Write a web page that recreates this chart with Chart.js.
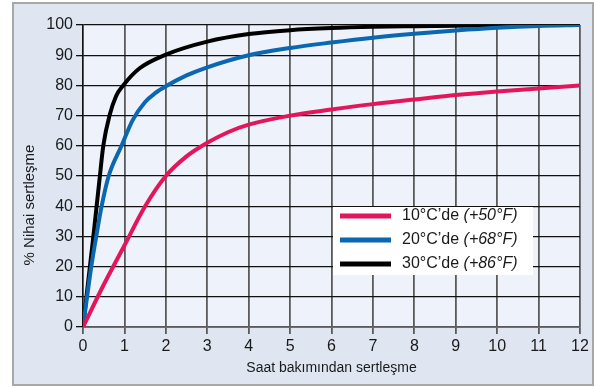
<!DOCTYPE html>
<html>
<head>
<meta charset="utf-8">
<script src="https://cdn.jsdelivr.net/npm/chart.js@4"></script>
<style>
  body { margin: 0; background: #fff; }
  #wrap { width: 595px; height: 388px; }
</style>
</head>
<body>
<div id="wrap"><canvas id="myChart" width="595" height="388"></canvas></div>
<script>
// Curing data (hours vs % of final strength)
const labels10 = ['10°C’de ', '(+50°F)'];
const labels20 = ['20°C’de ', '(+68°F)'];
const labels30 = ['30°C’de ', '(+86°F)'];

const hours10 = [0, 0.5, 1, 1.5, 2, 2.5, 3, 3.5, 4, 5, 6, 7, 8, 9, 10, 11, 12];
const pct10   = [0, 14, 27, 40, 50, 56.5, 61, 64.5, 67, 70, 72, 73.8, 75.3, 76.8, 78, 79, 80];

const hours20 = [0, 0.2, 0.32, 0.45, 0.62, 0.93, 1.2, 1.5, 1.75, 2, 2.5, 3, 4, 5, 6, 7, 8, 9, 10, 11, 12];
const pct20   = [0, 20, 30, 40, 50, 60, 68.5, 74.5, 77.5, 79.7, 83.3, 86, 90, 92.4, 94.2, 95.8, 97.1, 98.2, 99.1, 99.7, 100];

const hours30 = [0, 0.1, 0.25, 0.4, 0.49, 0.64, 0.8, 0.97, 1.36, 2, 3, 4, 5, 6, 7, 8, 10, 12];
const pct30   = [0, 12, 30, 49, 60, 70, 76.5, 80, 85.6, 90.2, 94.5, 97, 98.3, 99, 99.4, 99.6, 99.9, 100];

const xTicks = [0, 12, 1];   // min, max, step
const yTicks = [0, 100, 10];

const colors = ['#e3165b', '#0a67b0', '#000000'];

function pts(xs, ys) {
  return xs.map((x, i) => ({ x: x, y: ys[i] }));
}

// background, frame and custom legend
const decor = {
  id: 'decor',
  beforeDraw(chart) {
    const ctx = chart.ctx;
    const a = chart.chartArea;
    ctx.save();
    ctx.fillStyle = '#ffffff';
    ctx.fillRect(0, 0, chart.width, chart.height);
    ctx.fillStyle = '#dfe6f2';
    ctx.fillRect(13, 3, chart.width - 15, chart.height - 6);
    ctx.strokeStyle = '#a8a8a8';
    ctx.lineWidth = 2;
    ctx.strokeRect(13, 3, chart.width - 15, chart.height - 6);
    ctx.fillStyle = '#eef2fa';
    ctx.fillRect(a.left, a.top, a.right - a.left, a.bottom - a.top);

    // y title
    ctx.translate(30, a.top + 180);
    ctx.rotate(-Math.PI / 2);
    ctx.fillStyle = '#1a1a1a';
    ctx.font = '15px "Liberation Sans", Arial, sans-serif';
    ctx.textAlign = 'center';
    ctx.textBaseline = 'middle';
    ctx.fillText('% Nihai sertleşme', 0, 0);
    ctx.restore();
  },
  afterDraw(chart) {
    const ctx = chart.ctx;
    const a = chart.chartArea;
    const bx = a.right - 247, by = a.top + 182;
    ctx.save();
    ctx.fillStyle = '#ffffff';
    ctx.fillRect(bx, by, 200, 68);
    const rows = [labels10, labels20, labels30];
    rows.forEach((lab, i) => {
      const y = by + 9 + i * 24;
      ctx.strokeStyle = colors[i];
      ctx.lineWidth = 5;
      ctx.beginPath();
      ctx.moveTo(bx + 7, y);
      ctx.lineTo(bx + 58, y);
      ctx.stroke();
      ctx.fillStyle = '#1a1a1a';
      ctx.textBaseline = 'middle';
      ctx.font = '16px "Liberation Sans", Arial, sans-serif';
      ctx.fillText(lab[0], bx + 69, y);
      const w = ctx.measureText(lab[0]).width;
      ctx.font = 'italic 16px "Liberation Sans", Arial, sans-serif';
      ctx.fillText(lab[1], bx + 69 + w, y);
    });
    ctx.restore();
  }
};

const data = {
  datasets: [
    { label: labels10.join(''), data: pts(hours10, pct10), borderColor: colors[0] },
    { label: labels20.join(''), data: pts(hours20, pct20), borderColor: colors[1] },
    { label: labels30.join(''), data: pts(hours30, pct30), borderColor: colors[2] }
  ]
};

const config = {
  type: 'line',
  data,
  options: {
    responsive: false,
    animation: false,
    devicePixelRatio: 1,
    layout: { padding: { left: 0, right: 15, top: 25, bottom: 0 } },
    elements: {
      point: { radius: 0 },
      line: { borderWidth: 4, cubicInterpolationMode: 'monotone', fill: false }
    },
    plugins: {
      legend: { display: false },
      tooltip: { enabled: false }
    },
    scales: {
      x: {
        type: 'linear',
        min: xTicks[0],
        max: xTicks[1],
        ticks: {
          stepSize: xTicks[2],
          color: '#1a1a1a',
          padding: 3,
          maxRotation: 0,
          font: { family: '"Liberation Sans", Arial, sans-serif', size: 16 }
        },
        grid: { color: '#5a5a5a', lineWidth: 1.8, tickLength: 7 },
        border: { color: '#5a5a5a', width: 1.8 },
        title: {
          display: true,
          text: 'Saat bakımından sertleşme',
          color: '#1a1a1a',
          font: { family: '"Liberation Sans", Arial, sans-serif', size: 14 },
          padding: { top: 0, bottom: 11 }
        },
        afterFit(scale) { scale.height = 61; }
      },
      y: {
        min: yTicks[0],
        max: yTicks[1],
        ticks: {
          stepSize: yTicks[2],
          color: '#1a1a1a',
          padding: 3,
          font: { family: '"Liberation Sans", Arial, sans-serif', size: 16 }
        },
        grid: { color: '#111111', lineWidth: 1.3, tickLength: 7 },
        border: { color: '#111111', width: 1.3 },
        afterFit(scale) { scale.width = 83; }
      }
    }
  },
  plugins: [decor]
};

const myChart = new Chart(document.getElementById('myChart'), config);
</script>
</body>
</html>
